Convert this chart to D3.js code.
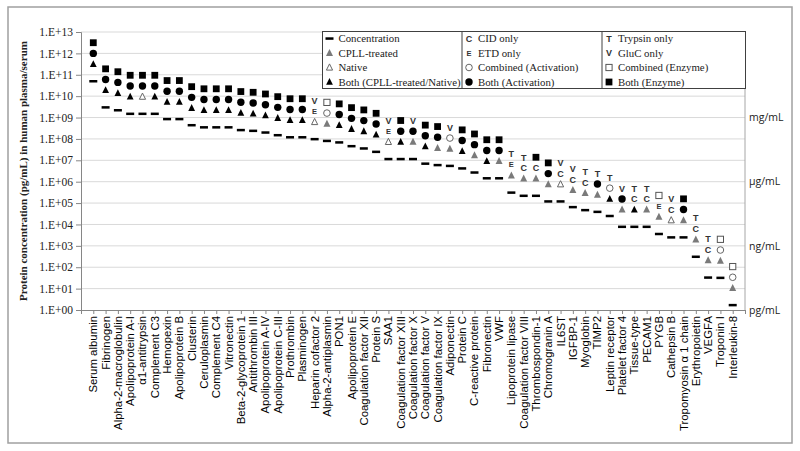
<!DOCTYPE html>
<html><head><meta charset="utf-8">
<script src="https://cdn.jsdelivr.net/npm/d3@7"></script>
<style>body{margin:0;background:#fff}svg{display:block}</style>
</head><body>
<svg id="chart" width="800" height="451"></svg>
<script>
// ---------- DATA ----------
const categories = ["Serum albumin","Fibrinogen","Alpha-2-macroglobulin","Apolipoprotein A-I","α1-antitrypsin","Complement C3","Hemopexin","Apolipoprotein B","Clusterin","Ceruloplasmin","Complement C4","Vitronectin","Beta-2-glycoprotein 1","Antithrombin III","Apolipoprotein A-IV","Apolipoprotein C-III","Prothrombin","Plasminogen","Heparin cofactor 2","Alpha-2-antiplasmin","PON1","Apolipoprotein E","Coagulation factor XII","Protein S","SAA1","Coagulation factor XIII","Coagulation factor X","Coagulation factor V","Coagulation factor IX","Adiponectin","Protein C","C-reactive protein","Fibronectin","VWF","Lipoprotein lipase","Coagulation factor VIII","Thrombospondin-1","Chromogranin A","IL6ST","IGFBP-1","Myoglobin","TIMP2","Leptin receptor","Platelet factor 4","Tissue-type","PECAM1","PYGB","Cathepsin B","Tropomyosin α 1 chain","Erythropoietin","VEGFA","Troponin I","Interleukin-8"];
// concentration in pg/mL
const concentration = [5.0e10,3.0e9,2.2e9,1.5e9,1.5e9,1.5e9,8.5e8,8.5e8,4.4e8,3.5e8,3.5e8,3.5e8,2.6e8,2.4e8,2.0e8,1.5e8,1.2e8,1.2e8,9.8e7,8.1e7,6.9e7,4.6e7,3.6e7,2.5e7,1.15e7,1.15e7,1.15e7,7.0e6,6.0e6,5.5e6,4.2e6,2.7e6,1.45e6,1.45e6,3.1e5,2.2e5,2.2e5,1.2e5,1.2e5,6.5e4,4.7e4,3.9e4,2.5e4,7.8e3,7.8e3,7.8e3,3.6e3,2.5e3,2.5e3,310,33,32,1.7];
// sample detection: B = Both (CPLL-treated/Native), C = CPLL-treated, N = Native
const sampleType = ["B","B","B","B","N","B","B","B","B","B","B","B","B","B","B","B","B","B","N","C","B","B","B","B","N","B","C","B","C","C","B","C","B","C","C","C","C","C","N","C","C","C","B","C","B","C","C","N","C","C","C","C","C"];
// activation: B = Both, O = Combined, C = CID only, E = ETD only
const activationType = ["B","B","B","B","B","B","B","B","B","B","B","B","B","B","B","B","B","B","E","O","B","B","B","B","E","B","B","B","B","O","B","B","B","B","E","C","C","B","C","C","C","B","O","B","C","C","E","C","B","C","C","O","O"];
// enzyme: B = Both, O = Combined, T = Trypsin only, V = GluC only
const enzymeType = ["B","B","B","B","B","B","B","B","B","B","B","B","B","B","B","B","B","B","V","O","B","B","B","B","V","B","V","B","B","V","B","B","B","B","T","T","B","B","V","V","T","T","T","V","T","T","O","V","B","T","T","O","O"];
const yTickExponents = [0,1,2,3,4,5,6,7,8,9,10,11,12,13];
const unitLabels = ["mg/mL","μg/mL","ng/mL","pg/mL"];
const unitValues = [1e9,1e6,1e3,1e0];
const legendColumns = [
  [["dash","Concentration"],["triGray","CPLL-treated"],["triOpen","Native"],["triBlack","Both (CPLL-treated/Native)"]],
  [["C","CID only"],["E","ETD only"],["circOpen","Combined (Activation)"],["circBlack","Both (Activation)"]],
  [["T","Trypsin only"],["V","GluC only"],["sqOpen","Combined (Enzyme)"],["sqBlack","Both (Enzyme)"]]
];

// ---------- LAYOUT ----------
const svg = d3.select("#chart");
const L = 81, R = 745, T = 32, B = 310;
const x = d3.scaleLinear().domain([0, categories.length + 1]).range([L, R]);
const y = d3.scaleLog().domain([1, 1e13]).range([B, T]);
// vertical placement of detection markers (decades above the concentration dash)
const OFF_SAMPLE = Math.pow(10, 0.8), OFF_ACT = Math.pow(10, 1.3), OFF_ENZ = Math.pow(10, 1.8);

svg.append("rect").attr("x", 8).attr("y", 7).attr("width", 784).attr("height", 436)
  .attr("fill", "#fff").attr("stroke", "#a0a0a0").attr("stroke-width", 1.5);

// grid
svg.append("g").selectAll("line").data(yTickExponents.slice(1)).join("line")
  .attr("x1", L).attr("x2", R).attr("y1", d => y(Math.pow(10, d))).attr("y2", d => y(Math.pow(10, d)))
  .attr("stroke", "#d9d9d9").attr("stroke-width", 1);
svg.append("line").attr("x1", R).attr("x2", R).attr("y1", T).attr("y2", B).attr("stroke", "#a6a6a6");

// y axis
const yAxis = d3.axisLeft(y).tickValues(yTickExponents.map(e => Math.pow(10, e)))
  .tickFormat(d => "1.E+" + String(Math.round(Math.log10(d))).padStart(2, "0")).tickSize(5).tickPadding(3);
const gy = svg.append("g").attr("transform", `translate(${L},0)`).call(yAxis);
gy.selectAll("path,line").attr("stroke", "#868686");
gy.selectAll("text").attr("font-family", "'Liberation Serif','Times New Roman',serif").attr("font-size", 11.5).attr("fill", "#222");

// x axis
const xAxis = d3.axisBottom(x).tickValues(d3.range(0, categories.length + 2)).tickFormat("").tickSize(4).tickSizeOuter(0);
const gx = svg.append("g").attr("transform", `translate(0,${B})`).call(xAxis);
gx.selectAll("path,line").attr("stroke", "#868686");

// x labels
svg.append("g").selectAll("text").data(categories).join("text")
  .attr("transform", (d, i) => `translate(${x(i + 1)},316) rotate(-90)`)
  .attr("dy", "0.35em").attr("text-anchor", "end")
  .attr("font-family", "'Liberation Sans',Arial,sans-serif").attr("font-size", 11.4).attr("fill", "#000")
  .text(d => d);

// y title
svg.append("text").attr("transform", "translate(23,171) rotate(-90)").attr("text-anchor", "middle")
  .attr("dy", "0.35em")
  .attr("font-family", "'Liberation Serif','Times New Roman',serif").attr("font-weight", "bold")
  .attr("font-size", 11).attr("fill", "#222")
  .text("Protein concentration  (pg/mL) in human plasma/serum");

// unit labels
svg.append("g").selectAll("text").data(unitLabels).join("text")
  .attr("x", 749).attr("y", (d, i) => y(unitValues[i])).attr("dy", "0.35em")
  .attr("font-family", "'Open Sans','Noto Sans',sans-serif").attr("font-size", 10.5).attr("fill", "#222")
  .text(d => d);

// ---------- MARKERS ----------
function drawMarker(g, kind, cx, cy) {
  const triPath = (s) => `M${cx},${cy - s * 0.58}L${cx + s / 2},${cy + s * 0.42}L${cx - s / 2},${cy + s * 0.42}Z`;
  switch (kind) {
    case "dash": g.append("rect").attr("x", cx - 4).attr("y", cy - 1.2).attr("width", 8).attr("height", 2.5).attr("fill", "#000"); break;
    case "triBlack": g.append("path").attr("d", triPath(6.8)).attr("fill", "#000"); break;
    case "triGray": g.append("path").attr("d", triPath(7)).attr("fill", "#7a7a7a"); break;
    case "triOpen": g.append("path").attr("d", triPath(6.2)).attr("fill", "#fff").attr("stroke", "#666").attr("stroke-width", 1); break;
    case "circBlack": g.append("circle").attr("cx", cx).attr("cy", cy).attr("r", 3.7).attr("fill", "#000"); break;
    case "circOpen": g.append("circle").attr("cx", cx).attr("cy", cy).attr("r", 3.3).attr("fill", "#fff").attr("stroke", "#666").attr("stroke-width", 1); break;
    case "sqBlack": g.append("rect").attr("x", cx - 3.4).attr("y", cy - 3.4).attr("width", 6.8).attr("height", 6.8).attr("fill", "#000"); break;
    case "sqOpen": g.append("rect").attr("x", cx - 3.1).attr("y", cy - 3.1).attr("width", 6.2).attr("height", 6.2).attr("fill", "#fff").attr("stroke", "#555").attr("stroke-width", 1); break;
    default:
      g.append("text").attr("x", cx).attr("y", cy).attr("dy", "0.36em").attr("text-anchor", "middle")
        .attr("font-family", "'Liberation Sans',Arial,sans-serif").attr("font-weight", "bold")
        .attr("font-size", kind === "E" ? 7.5 : 9).attr("fill", "#333").text(kind);
  }
}
const sampleKind = { B: "triBlack", C: "triGray", N: "triOpen" };
const actKind = { B: "circBlack", O: "circOpen", C: "C", E: "E" };
const enzKind = { B: "sqBlack", O: "sqOpen", T: "T", V: "V" };

const gm = svg.append("g");
categories.forEach((c, i) => {
  const cx = x(i + 1), v = concentration[i];
  drawMarker(gm, "dash", cx, y(v));
  drawMarker(gm, sampleKind[sampleType[i]], cx, y(v * OFF_SAMPLE));
  drawMarker(gm, actKind[activationType[i]], cx, y(v * OFF_ACT));
  drawMarker(gm, enzKind[enzymeType[i]], cx, y(v * OFF_ENZ));
});

// ---------- LEGEND ----------
const lg = svg.append("g");
lg.append("rect").attr("x", 322.5).attr("y", 31.5).attr("width", 423).attr("height", 57)
  .attr("fill", "#fff").attr("stroke", "#404040").attr("stroke-width", 1);
[462, 602].forEach(xx => lg.append("line").attr("x1", xx).attr("x2", xx).attr("y1", 31.5).attr("y2", 88.5).attr("stroke", "#404040"));
const colX = [322.5, 462, 602];
const rowY = [38.5, 53, 67.5, 82];
legendColumns.forEach((col, ci) => {
  col.forEach((item, ri) => {
    const mx = colX[ci] + 7, my = rowY[ri];
    drawMarker(lg, item[0], mx, my);
    lg.append("text").attr("x", colX[ci] + 16).attr("y", my).attr("dy", "0.35em")
      .attr("font-family", "'Liberation Serif','Times New Roman',serif").attr("font-size", 10.8).attr("fill", "#222")
      .text(item[1]);
  });
});
</script>
</body></html>
